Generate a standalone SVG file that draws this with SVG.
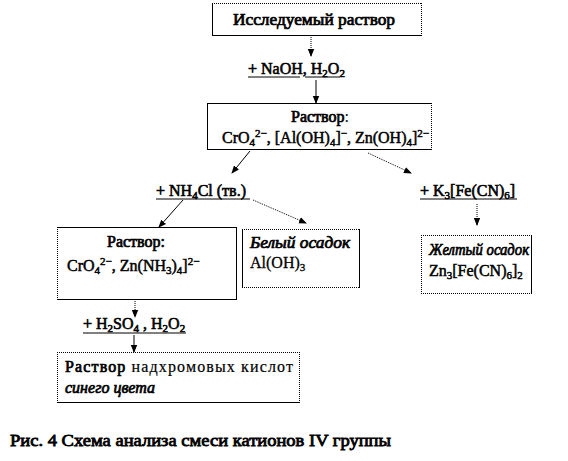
<svg xmlns="http://www.w3.org/2000/svg" width="568" height="461" viewBox="0 0 568 461" font-family="Liberation Serif" font-size="16" font-weight="normal">
<defs>
<marker id="ah" markerUnits="userSpaceOnUse" markerWidth="8" markerHeight="8" viewBox="0 0 8 8" refX="7" refY="4" orient="auto">
<path d="M0,0.8 L8,4 L0,7.2 Z" fill="#000"/>
</marker>
</defs>
<rect width="568" height="461" fill="#fff"/>

<g id="node-start" fill="none">
<rect x="212" y="3" width="210" height="33" fill="#fff"/>
<line stroke="#000" stroke-dasharray="1,1" x1="212" y1="3.5" x2="422" y2="3.5"/>
<line stroke="#000" stroke-dasharray="1,1" x1="421.5" y1="3" x2="421.5" y2="36"/>
<line stroke="#000" x1="212.5" y1="3" x2="212.5" y2="36"/>
<line stroke="#000" x1="212" y1="35.5" x2="422" y2="35.5"/>
<text fill="#000" stroke="#000" stroke-width="0.7" font-family="Liberation Serif" x="233" y="25" textLength="162" lengthAdjust="spacingAndGlyphs">Исследуемый раствор</text>
</g>

<g id="label-naoh">
<text fill="#000" stroke="#000" stroke-width="0.6" font-family="Liberation Serif" x="248" y="74">+ NaOH, H<tspan font-size="11" dy="3">2</tspan><tspan dy="-3">O</tspan><tspan font-size="11" dy="3">2</tspan></text>
<line stroke="#000" x1="248" y1="77" x2="300" y2="77"/>
<line stroke="#000" x1="305" y1="77" x2="340" y2="77"/>
</g>

<g id="node-solution1" fill="none">
<rect x="207" y="103" width="225" height="47" fill="#fff"/>
<line stroke="#000" x1="207" y1="103.5" x2="432" y2="103.5"/>
<line stroke="#000" x1="207.5" y1="103" x2="207.5" y2="150"/>
<line stroke="#000" x1="207" y1="149.5" x2="432" y2="149.5"/>
<line stroke="#000" stroke-dasharray="1,1" x1="431.5" y1="103" x2="431.5" y2="150"/>
<text fill="#000" stroke="#000" stroke-width="0.7" font-family="Liberation Serif" x="291" y="122">Раствор<tspan stroke-width="0">:</tspan></text>
<text fill="#000" stroke="#000" stroke-width="0.5" font-family="Liberation Serif" x="222" y="143">CrO<tspan font-size="11" dy="3">4</tspan><tspan font-size="11" dy="-9">2−</tspan><tspan dy="6">, [Al(OH)</tspan><tspan font-size="11" dy="3">4</tspan><tspan dy="-3">]</tspan><tspan font-size="11" dy="-6">−</tspan><tspan dy="6">, Zn(OH)</tspan><tspan font-size="11" dy="3">4</tspan><tspan dy="-3">]</tspan><tspan font-size="11" dy="-6">2−</tspan></text>
</g>

<g id="label-nh4cl">
<text fill="#000" stroke="#000" stroke-width="0.6" font-family="Liberation Serif" x="156" y="196">+ NH<tspan font-size="11" dy="3">4</tspan><tspan dy="-3">Cl (тв.)</tspan></text>
<line stroke="#000" x1="156" y1="199" x2="250" y2="199"/>
</g>

<g id="label-k3">
<text fill="#000" stroke="#000" stroke-width="0.6" font-family="Liberation Serif" x="420" y="196">+  K<tspan font-size="11" dy="3">3</tspan><tspan dy="-3">[Fe(CN)</tspan><tspan font-size="11" dy="3">6</tspan><tspan dy="-3">]</tspan></text>
<line stroke="#000" x1="420" y1="199" x2="517" y2="199"/>
</g>

<g id="node-solution2" fill="none">
<rect x="57" y="227" width="180" height="73" fill="#fff"/>
<line stroke="#000" stroke-dasharray="1,1" x1="57.5" y1="227" x2="57.5" y2="300"/>
<line stroke="#000" x1="57" y1="227.5" x2="237" y2="227.5"/>
<line stroke="#000" x1="236.5" y1="227" x2="236.5" y2="300"/>
<line stroke="#000" x1="57" y1="299.5" x2="237" y2="299.5"/>
<text fill="#000" stroke="#000" stroke-width="0.7" font-family="Liberation Serif" x="107" y="247">Раствор:</text>
<text fill="#000" stroke="#000" stroke-width="0.5" font-family="Liberation Serif" x="67" y="271">CrO<tspan font-size="11" dy="3">4</tspan><tspan font-size="11" dy="-9">2−</tspan><tspan dy="6">, Zn(NH</tspan><tspan font-size="11" dy="3">3</tspan><tspan dy="-3">)</tspan><tspan font-size="11" dy="3">4</tspan><tspan dy="-3">]</tspan><tspan font-size="11" dy="-6">2−</tspan></text>
</g>

<g id="node-white" fill="none">
<rect x="242" y="229" width="118" height="59" fill="#fff"/>
<line stroke="#000" stroke-dasharray="1,1" x1="242" y1="229.5" x2="360" y2="229.5"/>
<line stroke="#000" stroke-dasharray="1,1" x1="242" y1="287.5" x2="360" y2="287.5"/>
<line stroke="#000" x1="242.5" y1="229" x2="242.5" y2="288"/>
<line stroke="#000" x1="359.5" y1="229" x2="359.5" y2="288"/>
<text fill="#000" stroke="#000" stroke-width="0.7" font-family="Liberation Serif" font-style="italic" x="250" y="248" textLength="100" lengthAdjust="spacingAndGlyphs">Белый осадок</text>
<text fill="#000" stroke="#000" stroke-width="0.3" font-family="Liberation Serif" x="250" y="268">Al(OH)<tspan font-size="11" dy="3">3</tspan></text>
</g>

<g id="node-yellow" fill="none">
<rect x="421" y="235" width="111" height="59" fill="#fff"/>
<line stroke="#000" stroke-dasharray="1,1" x1="421" y1="235.5" x2="532" y2="235.5"/>
<line stroke="#000" stroke-dasharray="1,1" x1="421.5" y1="235" x2="421.5" y2="294"/>
<line stroke="#000" stroke-dasharray="1,1" x1="421" y1="293.5" x2="532" y2="293.5"/>
<line stroke="#000" x1="531.5" y1="235" x2="531.5" y2="294"/>
<text fill="#000" stroke="#000" stroke-width="0.7" font-family="Liberation Serif" font-style="italic" x="429" y="255" textLength="100" lengthAdjust="spacingAndGlyphs">Желтый осадок</text>
<text fill="#000" stroke="#000" stroke-width="0.5" font-family="Liberation Serif" x="429" y="276">Zn<tspan font-size="11" dy="3">3</tspan><tspan dy="-3">[Fe(CN)</tspan><tspan font-size="11" dy="3">6</tspan><tspan dy="-3">]</tspan><tspan font-size="11" dy="3">2</tspan></text>
</g>

<g id="label-h2so4">
<text fill="#000" stroke="#000" stroke-width="0.6" font-family="Liberation Serif" x="83" y="329">+ H<tspan font-size="11" dy="3">2</tspan><tspan dy="-3">SO</tspan><tspan font-size="11" dy="3">4</tspan><tspan dy="-3"> , H</tspan><tspan font-size="11" dy="3">2</tspan><tspan dy="-3">O</tspan><tspan font-size="11" dy="3">2</tspan></text>
<line stroke="#000" x1="83" y1="333" x2="186" y2="333"/>
</g>

<g id="node-final" fill="none">
<rect x="57" y="352" width="243" height="51" fill="#fff"/>
<line stroke="#000" stroke-dasharray="1,1" x1="57" y1="352.5" x2="300" y2="352.5"/>
<line stroke="#000" stroke-dasharray="1,1" x1="57.5" y1="352" x2="57.5" y2="403"/>
<line stroke="#000" stroke-dasharray="1,1" x1="299.5" y1="352" x2="299.5" y2="403"/>
<line stroke="#000" x1="57" y1="402.5" x2="300" y2="402.5"/>
<text fill="#000" stroke="#000" stroke-width="0.7" font-family="Liberation Serif" x="65" y="372" textLength="228" lengthAdjust="spacing">Раствор <tspan stroke-width="0.2">надхромовых кислот</tspan></text>
<text fill="#000" stroke="#000" stroke-width="0.7" font-family="Liberation Serif" font-style="italic" x="65" y="393">синего цвета</text>
</g>

<g id="connectors" stroke="#000" stroke-width="1" fill="none">
<line stroke-dasharray="1,1" x1="311" y1="37" x2="311" y2="56" marker-end="url(#ah)"/>
<line x1="316" y1="80" x2="316" y2="103" marker-end="url(#ah)"/>
<line x1="250" y1="151" x2="232" y2="173" marker-end="url(#ah)"/>
<line stroke-dasharray="1,1" x1="368" y1="153" x2="411" y2="173" marker-end="url(#ah)"/>
<line x1="183" y1="200" x2="159" y2="227" marker-end="url(#ah)"/>
<line stroke-dasharray="1,1" x1="253" y1="200" x2="306" y2="223" marker-end="url(#ah)"/>
<line stroke-dasharray="1,1" x1="477" y1="204" x2="477" y2="225" marker-end="url(#ah)"/>
<line stroke-dasharray="1,1" x1="135" y1="301" x2="135" y2="317" marker-end="url(#ah)"/>
<line x1="134" y1="335" x2="134" y2="352" marker-end="url(#ah)"/>
</g>

<text fill="#000" stroke="#000" stroke-width="0.8" font-family="Liberation Serif" font-size="17" x="10" y="446" textLength="381" lengthAdjust="spacingAndGlyphs">Рис. 4 Схема анализа смеси катионов IV группы</text>
</svg>
